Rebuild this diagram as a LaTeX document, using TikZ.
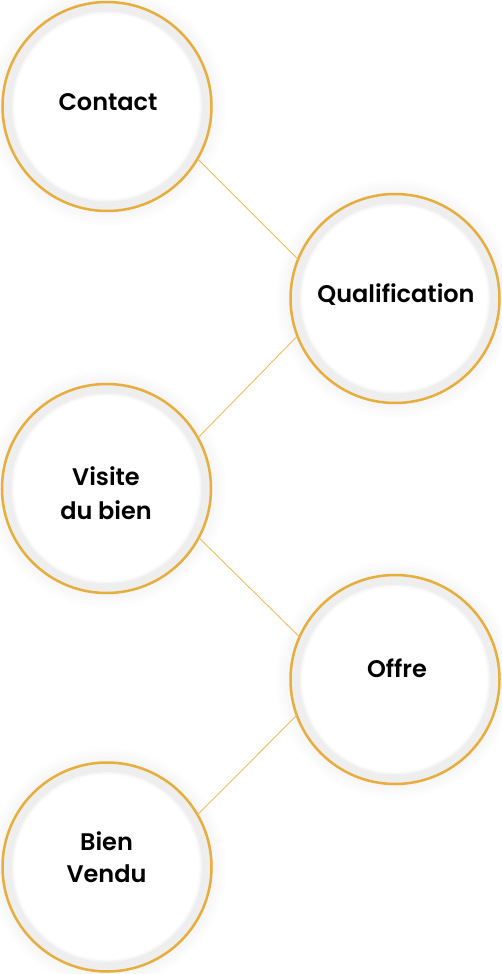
\documentclass[tikz,border=0pt]{standalone}
\usepackage{fontspec}
\setmainfont{Poppins}[BoldFont={Poppins SemiBold}]
\definecolor{ringc}{HTML}{E6AE3C}
\definecolor{linec}{HTML}{EDBE60}
\definecolor{bandc}{HTML}{EEEEEE}
\begin{document}
\begin{tikzpicture}[x=1pt,y=-1pt,
  ring/.style={circle, draw=ringc, line width=2.5pt, fill=bandc, minimum size=209pt, inner sep=0pt, outer sep=0pt,
    path picture={\fill[white!45!bandc] (path picture bounding box.center) circle (95pt);
                  \fill[white!80!bandc] (path picture bounding box.center) circle (93.5pt);
                  \fill[white] (path picture bounding box.center) circle (92pt);}},
  lbl/.style={anchor=base, font=\fontsize{24}{28}\selectfont\bfseries, text=black, inner sep=0pt},
  link/.style={draw=linec, line width=0.9pt}]
\useasboundingbox (0,0) rectangle (502,974);
\fill[white] (0,0) rectangle (502,974);
\coordinate (c1) at (107,106.5);
\coordinate (c2) at (395,298.5);
\coordinate (c3) at (106.5,488.5);
\coordinate (c4) at (395,679.5);
\coordinate (c5) at (107,867);
% soft outer shadows
\foreach \c in {c1,c2,c3,c4,c5}{
  \foreach \r in {107,110,113,116,119}{
    \fill[black, opacity=0.006] (\c) circle (\r pt);
  }
}
\node[ring] (contact) at (c1) {};
\node[ring] (qualif) at (c2) {};
\node[ring] (visite) at (c3) {};
\node[ring] (offre) at (c4) {};
\node[ring] (vendu) at (c5) {};
\draw[link] (contact.-30.7) -- (qualif.158.1);
\draw[link] (visite.29.2) -- (qualif.201.9);
\draw[link] (visite.-28.2) -- (offre.156.5);
\draw[link] (vendu.30.9) -- (offre.200.4);
\node[lbl] (t1) at (108,110.5) {Contact};
\node[lbl] (t2) at (396,302) {Qualification};
\node[lbl] (t3a) at (106,485.7) {Visite};
\node[lbl] (t3b) at (106,519) {du bien};
\node[lbl] (t4) at (397,677.7) {Offre};
\node[lbl] (t5a) at (106.5,850.7) {Bien};
\node[lbl] (t5b) at (106.5,882.7) {Vendu};
\end{tikzpicture}
\end{document}
